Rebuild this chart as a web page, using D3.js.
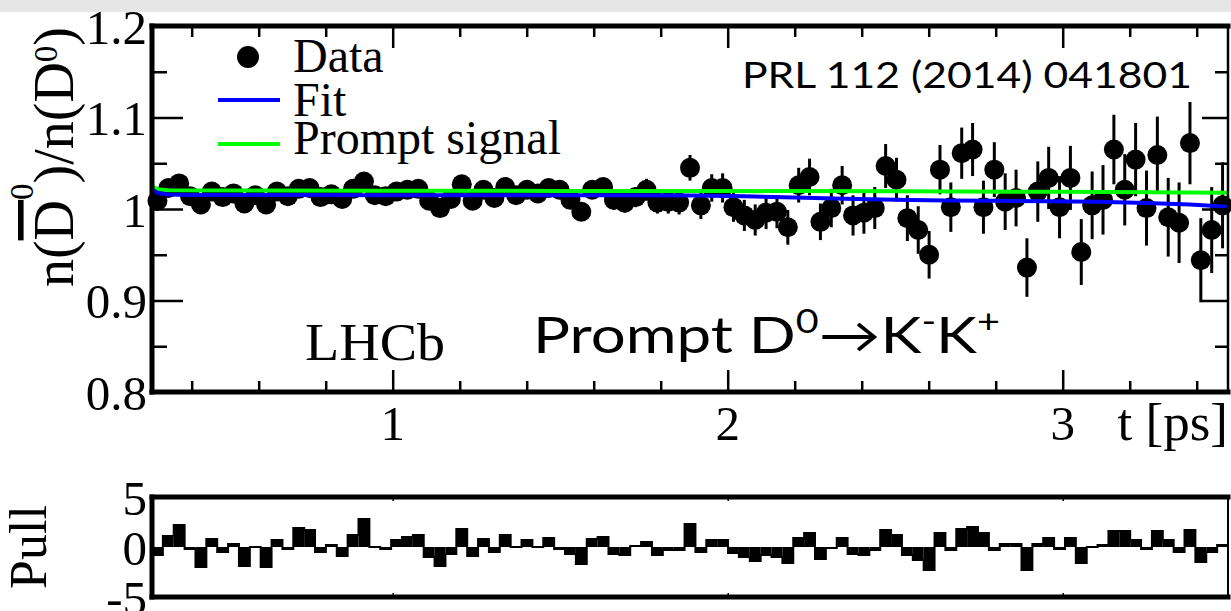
<!DOCTYPE html>
<html>
<head>
<meta charset="utf-8">
<script src="https://cdnjs.cloudflare.com/ajax/libs/d3/7.8.5/d3.min.js"></script>
<style>
body{margin:0;background:#fff;}
svg{display:block;}
</style>
</head>
<body>
<div id="chart"></div>
<script>
const WIDTH = 1231;
const HEIGHT = 611;

// decay time binning [ps]
const tMin = 0.2815;
const tMax = 3.4934;
const nBins = 99;

// n(D0bar)/n(D0) per bin
const ratio = [
  1.009, 1.023, 1.028, 1.014, 1.005, 1.019, 1.013, 1.017, 1.006, 1.015,
  1.005, 1.019, 1.014, 1.022, 1.023, 1.013, 1.016, 1.011, 1.022, 1.030,
  1.015, 1.014, 1.019, 1.021, 1.022, 1.009, 1.001, 1.011, 1.027, 1.009,
  1.021, 1.012, 1.024, 1.015, 1.021, 1.017, 1.023, 1.021, 1.010, 0.997,
  1.021, 1.024, 1.010, 1.007, 1.013, 1.021, 1.007, 1.008, 1.007, 1.045,
  1.004, 1.023, 1.023, 1.002, 0.993, 0.988, 0.996, 0.997, 0.980, 1.026,
  1.035, 0.986, 1.001, 1.026, 0.993, 0.996, 1.001, 1.047, 1.032, 0.990,
  0.977, 0.950, 1.043, 1.002, 1.061, 1.065, 1.002, 1.043, 1.008, 1.012,
  0.936, 1.019, 1.034, 1.002, 1.034, 0.953, 1.004, 1.010, 1.065, 1.021,
  1.054, 1.001, 1.059, 0.991, 0.985, 1.072, 0.944, 0.977, 1.004
];
const ratioErr = [
  0.005, 0.005, 0.005, 0.005, 0.005, 0.005, 0.005, 0.005, 0.005, 0.005,
  0.005, 0.005, 0.005, 0.005, 0.005, 0.005, 0.005, 0.005, 0.005, 0.005,
  0.006, 0.006, 0.006, 0.006, 0.006, 0.006, 0.006, 0.007, 0.007, 0.007,
  0.007, 0.007, 0.007, 0.008, 0.008, 0.008, 0.009, 0.009, 0.009, 0.009,
  0.010, 0.010, 0.011, 0.011, 0.011, 0.012, 0.012, 0.013, 0.013, 0.014,
  0.015, 0.015, 0.016, 0.016, 0.017, 0.017, 0.018, 0.018, 0.019, 0.019,
  0.020, 0.020, 0.021, 0.021, 0.022, 0.023, 0.023, 0.024, 0.024, 0.025,
  0.026, 0.026, 0.027, 0.027, 0.028, 0.029, 0.029, 0.030, 0.031, 0.031,
  0.032, 0.033, 0.034, 0.034, 0.035, 0.036, 0.037, 0.038, 0.038, 0.039,
  0.040, 0.041, 0.042, 0.043, 0.044, 0.045, 0.046, 0.047, 0.047
];
const pull = [
  -0.8, 1.1, 2.2, -0.2, -2.0, 0.8, -0.5, 0.3, -1.9, 0.0,
  -2.0, 0.7, -0.2, 1.9, 1.7, -0.5, 0.2, -0.9, 1.2, 2.8,
  0.0, -0.2, 0.7, 1.0, 1.2, -1.0, -1.9, -0.7, 1.8, -0.9,
  0.8, -0.5, 1.2, 0.0, 0.7, 0.0, 0.9, -0.2, -0.7, -1.7,
  0.8, 1.0, -0.7, -0.8, 0.1, 0.5, -0.8, -0.3, -0.3, 2.3,
  -0.5, 0.7, 0.7, -0.6, -1.0, -1.4, -0.8, -1.0, -1.6, 0.9,
  1.4, -1.2, -0.1, 0.9, -0.7, -0.8, -0.3, 1.7, 1.2, -0.8,
  -1.3, -2.3, 1.4, -0.3, 1.8, 2.0, 1.4, -0.3, 0.3, 0.3,
  -2.3, 0.3, 0.9, -0.2, 0.9, -1.6, 0.0, 0.2, 1.6, 1.6,
  0.7, -0.2, 1.6, 0.7, -0.5, 1.7, -1.5, -0.5, 0.2
];

// fit curve (blue) and prompt signal component (green)
const fitT   = [0.2815, 0.30, 0.33, 0.40, 0.70, 1.00, 1.30, 1.60, 1.90, 2.05, 2.20, 2.35, 2.50, 2.65, 2.80, 2.95, 3.10, 3.25, 3.38, 3.4934];
const fitVal = [1.0210, 1.0175, 1.0158, 1.0153, 1.0152, 1.0150, 1.0150, 1.0150, 1.0148, 1.0138, 1.0125, 1.0112, 1.0100, 1.0094, 1.0090, 1.0086, 1.0078, 1.0065, 1.0050, 1.0025];
const promptT   = [0.2815, 0.30, 0.33, 0.60, 1.00, 1.50, 2.00, 2.50, 3.00, 3.4934];
const promptVal = [1.0245, 1.0215, 1.0205, 1.0202, 1.0200, 1.0198, 1.0196, 1.0193, 1.0188, 1.0178];

const xMajor = [1, 2, 3];
const xMinor = [0.4, 0.6, 0.8, 1.2, 1.4, 1.6, 1.8, 2.2, 2.4, 2.6, 2.8, 3.2, 3.4];
const yMajor = [0.8, 0.9, 1.0, 1.1, 1.2];
const yMinor = [0.85, 0.95, 1.05, 1.15];
const pullTicks = [5, 0, -5];

const SERIF = "'Liberation Serif', 'Times New Roman', serif";
const SANS = "Lato, 'Open Sans', sans-serif";

function setup(){
    let svg = d3.select("#chart")
        .append("svg")
        .attr("width",WIDTH)
        .attr("height",HEIGHT);

    svg.append("rect").attr("width",WIDTH).attr("height",HEIGHT).attr("fill","#fff");
    svg.append("rect").attr("width",WIDTH).attr("height",12).attr("fill","#e6e6e6");

    main(svg);
    pullPad(svg);
}

function cleanAxis(g,w){
    g.select(".domain").remove();
    g.selectAll(".tick line").attr("stroke","#000").attr("stroke-width",w);
}

function main(svg){
    const X0 = 152, X1 = 1228, Y0 = 26, Y1 = 392;
    let x = d3.scaleLinear().domain([tMin,tMax]).range([X0,X1]);
    let y = d3.scaleLinear().domain([0.8,1.2]).range([Y1,Y0]);

    const binW = (tMax - tMin)/nBins;
    let pts = ratio.map((v,i) => ({t: tMin + (i+0.5)*binW, v: v, e: ratioErr[i]}));

    // data: error bars then markers
    let dataG = svg.append("g");
    dataG.selectAll(".err")
        .data(pts)
        .enter()
        .append("line")
        .attr("class","err")
        .attr("x1",d => x(d.t))
        .attr("x2",d => x(d.t))
        .attr("y1",d => y(d.v - d.e))
        .attr("y2",d => y(d.v + d.e))
        .attr("stroke","#000")
        .attr("stroke-width",3);
    dataG.selectAll(".pt")
        .data(pts)
        .enter()
        .append("circle")
        .attr("class","pt")
        .attr("cx",d => x(d.t))
        .attr("cy",d => y(d.v))
        .attr("r",10)
        .attr("fill","#000");

    let line = d3.line().x(d => x(d[0])).y(d => y(d[1]));
    svg.append("path")
        .datum(d3.zip(promptT,promptVal))
        .attr("d",line)
        .attr("fill","none")
        .attr("stroke","#00ff00")
        .attr("stroke-width",4);
    svg.append("path")
        .datum(d3.zip(fitT,fitVal))
        .attr("d",line)
        .attr("fill","none")
        .attr("stroke","#0000ff")
        .attr("stroke-width",4);

    // ticks
    svg.append("g").attr("transform",`translate(0,${Y1})`)
        .call(d3.axisTop(x).tickValues(xMajor).tickSize(22).tickFormat(""))
        .call(g => cleanAxis(g,2.5));
    svg.append("g").attr("transform",`translate(0,${Y1})`)
        .call(d3.axisTop(x).tickValues(xMinor).tickSize(11).tickFormat(""))
        .call(g => cleanAxis(g,2.5));
    svg.append("g").attr("transform",`translate(0,${Y0})`)
        .call(d3.axisBottom(x).tickValues(xMajor).tickSize(22).tickFormat(""))
        .call(g => cleanAxis(g,2.5));
    svg.append("g").attr("transform",`translate(0,${Y0})`)
        .call(d3.axisBottom(x).tickValues(xMinor).tickSize(11).tickFormat(""))
        .call(g => cleanAxis(g,2.5));
    svg.append("g").attr("transform",`translate(${X0},0)`)
        .call(d3.axisRight(y).tickValues(yMajor).tickSize(31).tickFormat(""))
        .call(g => cleanAxis(g,2.5));
    svg.append("g").attr("transform",`translate(${X0},0)`)
        .call(d3.axisRight(y).tickValues(yMinor).tickSize(15).tickFormat(""))
        .call(g => cleanAxis(g,2.5));
    svg.append("g").attr("transform",`translate(${X1},0)`)
        .call(d3.axisLeft(y).tickValues(yMajor).tickSize(26).tickFormat(""))
        .call(g => cleanAxis(g,2.5));
    svg.append("g").attr("transform",`translate(${X1},0)`)
        .call(d3.axisLeft(y).tickValues(yMinor).tickSize(13).tickFormat(""))
        .call(g => cleanAxis(g,2.5));

    // frame
    let frame = svg.append("g").attr("stroke","#000").attr("stroke-linecap","square");
    frame.append("line").attr("x1",X0).attr("x2",X1).attr("y1",Y1).attr("y2",Y1).attr("stroke-width",5);
    frame.append("line").attr("x1",X0).attr("x2",X1).attr("y1",Y0).attr("y2",Y0).attr("stroke-width",5);
    frame.append("line").attr("x1",X0).attr("x2",X0).attr("y1",Y0).attr("y2",Y1).attr("stroke-width",5);
    frame.append("line").attr("x1",X1).attr("x2",X1).attr("y1",Y0).attr("y2",Y1).attr("stroke-width",2.5);

    // tick labels
    svg.append("g").selectAll("text")
        .data(yMajor)
        .enter()
        .append("text")
        .attr("x",X0-5)
        .attr("y",d => y(d))
        .attr("dy","0.36em")
        .attr("text-anchor","end")
        .style("font-family",SERIF)
        .style("font-size","49px")
        .text(d => d3.format("~g")(d));
    svg.append("g").selectAll("text")
        .data(xMajor)
        .enter()
        .append("text")
        .attr("x",d => x(d))
        .attr("y",440)
        .attr("text-anchor","middle")
        .style("font-family",SERIF)
        .style("font-size","49px")
        .text(d => d);
    svg.append("text")
        .attr("x",X1)
        .attr("y",440)
        .attr("text-anchor","end")
        .style("font-family",SERIF)
        .style("font-size","53px")
        .text("t [ps]");

    // y title
    let yt = svg.append("text")
        .attr("transform","translate(73,157) rotate(-90)")
        .attr("text-anchor","middle")
        .style("font-family",SERIF)
        .style("font-size","56px");
    yt.append("tspan").text("n(");
    yt.append("tspan").style("text-decoration","overline").text("D");
    yt.append("tspan").attr("dy",-40).style("font-size","33px").text("0");
    yt.append("tspan").attr("dy",40).text(")/n(D");
    yt.append("tspan").attr("dy",-16).style("font-size","33px").text("0");
    yt.append("tspan").attr("dy",16).text(")");

    // legend
    let leg = svg.append("g");
    leg.append("circle").attr("cx",248).attr("cy",57).attr("r",11).attr("fill","#000");
    leg.append("line").attr("x1",218).attr("x2",280).attr("y1",100).attr("y2",100)
        .attr("stroke","#0000ff").attr("stroke-width",4);
    leg.append("line").attr("x1",218).attr("x2",280).attr("y1",144).attr("y2",144)
        .attr("stroke","#00ff00").attr("stroke-width",4);
    [["Data",72],["Fit",116],["Prompt signal",154]].forEach(l => {
        leg.append("text")
            .attr("x",293)
            .attr("y",l[1])
            .style("font-family",SERIF)
            .style("font-size","48px")
            .text(l[0]);
    });

    // annotations
    svg.append("text")
        .attr("x",742)
        .attr("y",88)
        .attr("textLength",450)
        .attr("lengthAdjust","spacingAndGlyphs")
        .style("font-family",SANS)
        .style("font-size","37px")
        .text("PRL 112 (2014) 041801");
    svg.append("text")
        .attr("x",305)
        .attr("y",360)
        .attr("textLength",140)
        .attr("lengthAdjust","spacingAndGlyphs")
        .style("font-family",SERIF)
        .style("font-size","52px")
        .text("LHCb");
    let pr = svg.append("text")
        .attr("x",533)
        .attr("y",353)
        .attr("textLength",467)
        .attr("lengthAdjust","spacingAndGlyphs")
        .style("font-family",SANS)
        .style("font-size","50px");
    pr.append("tspan").text("Prompt D");
    pr.append("tspan").attr("dy",-20).style("font-size","32px").text("0");
    pr.append("tspan").attr("dy",20).text("\u2192K");
    pr.append("tspan").attr("dy",-20).style("font-size","32px").text("-");
    pr.append("tspan").attr("dy",20).text("K");
    pr.append("tspan").attr("dy",-20).style("font-size","32px").text("+");
}

function pullPad(svg){
    const X0 = 152, X1 = 1228, P0 = 497, P1 = 597;
    let x = d3.scaleLinear().domain([tMin,tMax]).range([X0,X1]);
    let yp = d3.scaleLinear().domain([-5,5]).range([P1,P0]);
    const binW = (tMax - tMin)/nBins;

    svg.append("g").selectAll("rect")
        .data(pull)
        .enter()
        .append("rect")
        .attr("x",(d,i) => x(tMin + i*binW))
        .attr("width",x(tMin + binW) - x(tMin))
        .attr("y",d => yp(Math.max(0,d)))
        .attr("height",d => Math.abs(yp(d) - yp(0)))
        .attr("fill","#000");

    let steps = pull.map((d,i) => [tMin + i*binW, d]);
    steps.push([tMax, pull[pull.length-1]]);
    svg.append("path")
        .datum(steps)
        .attr("d",d3.line().x(d => x(d[0])).y(d => yp(d[1])).curve(d3.curveStepAfter))
        .attr("fill","none")
        .attr("stroke","#000")
        .attr("stroke-width",2);

    svg.append("g").attr("transform",`translate(0,${P1})`)
        .call(d3.axisTop(x).tickValues(xMajor).tickSize(4).tickFormat(""))
        .call(g => cleanAxis(g,1.5));
    svg.append("g").attr("transform",`translate(0,${P0})`)
        .call(d3.axisBottom(x).tickValues(xMajor).tickSize(4).tickFormat(""))
        .call(g => cleanAxis(g,1.5));

    let frame = svg.append("g").attr("stroke","#000").attr("stroke-linecap","square");
    frame.append("line").attr("x1",X0).attr("x2",X1).attr("y1",P1).attr("y2",P1).attr("stroke-width",5);
    frame.append("line").attr("x1",X0).attr("x2",X1).attr("y1",P0).attr("y2",P0).attr("stroke-width",5);
    frame.append("line").attr("x1",X0).attr("x2",X0).attr("y1",P0).attr("y2",P1).attr("stroke-width",5);
    frame.append("line").attr("x1",X1).attr("x2",X1).attr("y1",P0).attr("y2",P1).attr("stroke-width",2);

    svg.append("g").selectAll("text")
        .data(pullTicks)
        .enter()
        .append("text")
        .attr("x",X0-5)
        .attr("y",d => yp(d))
        .attr("dy","0.36em")
        .attr("text-anchor","end")
        .style("font-family",SERIF)
        .style("font-size","49px")
        .text(d => d);

    svg.append("text")
        .attr("transform",`translate(46,${yp(0)}) rotate(-90)`)
        .attr("text-anchor","middle")
        .style("font-family",SERIF)
        .style("font-size","52px")
        .text("Pull");
}

window.addEventListener("load",setup);
</script>
</body>
</html>
